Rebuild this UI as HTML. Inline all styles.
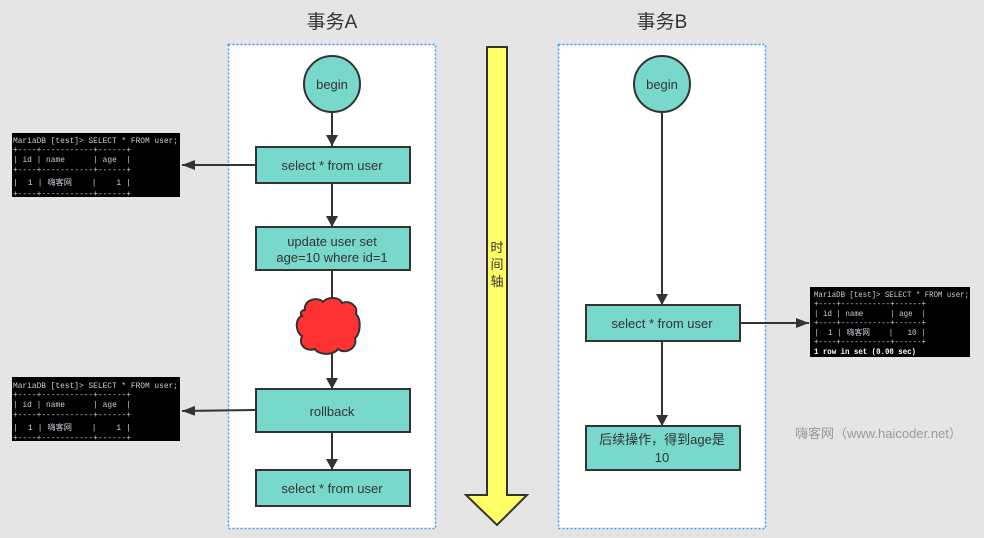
<!DOCTYPE html>
<html><head><meta charset="utf-8"><style>
html,body{margin:0;padding:0;background:#e5e5e5;}
svg{display:block;}
.t{font-family:"Liberation Sans","Noto Sans CJK SC",sans-serif;fill:#333;}
.m text{font-family:"Liberation Mono","Noto Sans CJK SC",monospace;font-size:8px;white-space:pre;}
</style></head><body>
<svg width="984" height="538" viewBox="0 0 984 538" xmlns="http://www.w3.org/2000/svg" xml:space="preserve">
<defs>
<marker id="a" markerWidth="12" markerHeight="12" refX="11" refY="6" orient="auto" markerUnits="userSpaceOnUse">
<path d="M0,0 L11,6 L0,12 Z" fill="#333"/></marker>
<marker id="b" markerWidth="14" markerHeight="12" refX="13" refY="5" orient="auto" markerUnits="userSpaceOnUse">
<path d="M0,0 L13,5 L0,10 Z" fill="#333"/></marker>
</defs>
<rect width="984" height="538" fill="#e5e5e5"/>
<text class="t" x="332" y="28" font-size="19" text-anchor="middle">事务A</text>
<text class="t" x="662" y="28" font-size="19" text-anchor="middle">事务B</text>
<rect x="228.5" y="44.5" width="207" height="484" fill="#fff" stroke="#3399ff" stroke-width="1.5" stroke-dasharray="2,2"/>
<rect x="558.5" y="44.5" width="207" height="484" fill="#fff" stroke="#3399ff" stroke-width="1.5" stroke-dasharray="2,2"/>
<path d="M487,47 H507 V495 H527 L497,525 L466,495 H487 Z" fill="#ffff66" stroke="#333" stroke-width="2"/>
<text class="t" font-size="13" text-anchor="middle"><tspan x="497" y="252">时</tspan><tspan x="497" y="269">间</tspan><tspan x="497" y="286">轴</tspan></text>
<g stroke="#333" stroke-width="2" fill="none">
<line x1="332" y1="112" x2="332" y2="146" marker-end="url(#a)"/>
<line x1="332" y1="183" x2="332" y2="227" marker-end="url(#a)"/>
<line x1="332" y1="270" x2="332" y2="300"/>
<line x1="332" y1="352" x2="332" y2="389" marker-end="url(#a)"/>
<line x1="332" y1="432" x2="332" y2="470" marker-end="url(#a)"/>
<line x1="662" y1="112" x2="662" y2="305" marker-end="url(#a)"/>
<line x1="662" y1="341" x2="662" y2="426" marker-end="url(#a)"/>
<line x1="256" y1="165" x2="182" y2="165" marker-end="url(#b)"/>
<line x1="256" y1="410" x2="182" y2="411" marker-end="url(#b)"/>
<line x1="740" y1="323" x2="809" y2="323" marker-end="url(#b)"/>
</g>
<g fill="#78d8cb" stroke="#333" stroke-width="2">
<circle cx="332" cy="84" r="28"/>
<circle cx="662" cy="84" r="28"/>
<rect x="256" y="147" width="154" height="36"/>
<rect x="256" y="227" width="154" height="43"/>
<rect x="256" y="389" width="154" height="43"/>
<rect x="256" y="470" width="154" height="36"/>
<rect x="586" y="305" width="154" height="36"/>
<rect x="586" y="426" width="154" height="44"/>
</g>
<path d="M305,310 C303,300 318,296 323,302 C328,296 340,297 342,303 C350,300 358,306 356,314 C362,320 360,335 355,338 C358,348 345,355 338,349 C333,356 318,355 315,349 C306,352 298,345 302,336 C295,332 295,318 302,316 C299,313 302,310 305,310 Z" fill="#ff3333" stroke="#333" stroke-width="2"/>
<g class="t" font-size="13" text-anchor="middle">
<text x="332" y="89">begin</text>
<text x="662" y="89">begin</text>
<text x="332" y="170">select * from user</text>
<text x="332" y="246">update user set</text>
<text x="332" y="262">age=10 where id=1</text>
<text x="332" y="416">rollback</text>
<text x="332" y="493">select * from user</text>
<text x="662" y="328">select * from user</text>
<text x="662" y="444">后续操作，得到age是</text>
<text x="662" y="462">10</text>
</g>
<text x="795" y="438" font-size="13" fill="#999" font-family="Liberation Sans, Noto Sans CJK SC, sans-serif">嗨客网（www.haicoder.net）</text>
<rect x="12" y="133" width="168" height="64" fill="#000"/>
<g class="m" fill="#c8d0d8">
<text x="13" y="143" textLength="165" lengthAdjust="spacingAndGlyphs">MariaDB [test]&gt; SELECT * FROM user;</text>
<text x="13" y="152" textLength="118" lengthAdjust="spacingAndGlyphs">+----+-----------+------+</text>
<text x="13" y="162" textLength="118" lengthAdjust="spacingAndGlyphs">| id | name      | age  |</text>
<text x="13" y="172" textLength="118" lengthAdjust="spacingAndGlyphs">+----+-----------+------+</text>
<text x="13" y="185" textLength="118" lengthAdjust="spacingAndGlyphs">|  1 | 嗨客网    |    1 |</text>
<text x="13" y="196" textLength="118" lengthAdjust="spacingAndGlyphs">+----+-----------+------+</text>
</g>
<rect x="12" y="377" width="168" height="64" fill="#000"/>
<g class="m" fill="#c8d0d8">
<text x="13" y="388" textLength="165" lengthAdjust="spacingAndGlyphs">MariaDB [test]&gt; SELECT * FROM user;</text>
<text x="13" y="397" textLength="118" lengthAdjust="spacingAndGlyphs">+----+-----------+------+</text>
<text x="13" y="407" textLength="118" lengthAdjust="spacingAndGlyphs">| id | name      | age  |</text>
<text x="13" y="417" textLength="118" lengthAdjust="spacingAndGlyphs">+----+-----------+------+</text>
<text x="13" y="430" textLength="118" lengthAdjust="spacingAndGlyphs">|  1 | 嗨客网    |    1 |</text>
<text x="13" y="440" textLength="118" lengthAdjust="spacingAndGlyphs">+----+-----------+------+</text>
</g>
<rect x="810" y="287" width="160" height="70" fill="#000"/>
<g class="m" fill="#c8d0d8">
<text x="814" y="297" textLength="155" lengthAdjust="spacingAndGlyphs">MariaDB [test]&gt; SELECT * FROM user;</text>
<text x="814" y="306" textLength="112" lengthAdjust="spacingAndGlyphs">+----+-----------+------+</text>
<text x="814" y="316" textLength="112" lengthAdjust="spacingAndGlyphs">| id | name      | age  |</text>
<text x="814" y="325" textLength="112" lengthAdjust="spacingAndGlyphs">+----+-----------+------+</text>
<text x="814" y="335" textLength="112" lengthAdjust="spacingAndGlyphs">|  1 | 嗨客网    |   10 |</text>
<text x="814" y="344" textLength="112" lengthAdjust="spacingAndGlyphs">+----+-----------+------+</text>
<text x="814" y="354" fill="#fff" font-weight="bold" textLength="102" lengthAdjust="spacingAndGlyphs">1 row in set (0.00 sec)</text>
</g>
</svg>
</body></html>
